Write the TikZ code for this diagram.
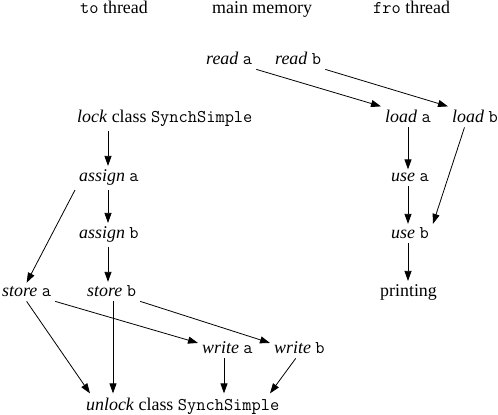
\documentclass[tikz,border=0pt]{standalone}
\usepackage{fontspec}
\setmainfont{Liberation Serif}
\usetikzlibrary{arrows.meta}

\begin{document}
\begin{tikzpicture}[x = 1pt, y = 1pt, font = \fontsize{17.9}{20}\selectfont,
    lbl/.style = {anchor = base west, inner sep = 4pt},
    arr/.style = {-{Triangle[length = 10pt, width = 7pt]}, line width = 0.8pt}]
                \useasboundingbox (0, 0) rectangle (498, 415);

                \node [lbl] (hTo) at (76, 401) {\texttt{to} thread};
                \node [lbl] (hMain) at (208, 401) {main memory};
                \node [lbl] (hFro) at (369, 401) {\texttt{fro} thread};

                \node [lbl] (readA) at (202, 350) {\textit{read} \texttt{a}};
                \node [lbl] (readB) at (271, 350) {\textit{read} \texttt{b}};

                \node [lbl] (lock) at (73, 292) {\textit{lock} class \texttt{SynchSimple}};
                \node [lbl] (loadA) at (381, 292) {\textit{load} \texttt{a}};
                \node [lbl] (loadB) at (448, 292) {\textit{load} \texttt{b}};

                \node [lbl] (assignA) at (75, 233) {\textit{assign} \texttt{a}};
                \node [lbl] (useA) at (387, 233) {\textit{use} \texttt{a}};

                \node [lbl] (assignB) at (75, 176) {\textit{assign} \texttt{b}};
                \node [lbl] (useB) at (387, 176) {\textit{use} \texttt{b}};

                \node [lbl] (storeA) at (-2, 118) {\textit{store} \texttt{a}};
                \node [lbl] (storeB) at (83, 118) {\textit{store} \texttt{b}};
                \node [lbl] (printing) at (376, 118) {printing};

                \node [lbl] (writeA) at (198, 61) {\textit{write} \texttt{a}};
                \node [lbl] (writeB) at (270, 61) {\textit{write} \texttt{b}};

                \node [lbl] (unlock) at (82, 5) {\textit{unlock} class \texttt{SynchSimple}};

                \coordinate (colL) at (108, 0);
                \coordinate (colR) at (408, 0);
                \coordinate (colS) at (113, 0);
                \coordinate (colW) at (224, 0);
                \coordinate (colU) at (90, 0);
                \coordinate (colV) at (270, 0);

                \foreach \a/\b in {lock/assignA, assignA/assignB, assignB/storeB}
                \draw [arr] (\a.south -| colL) -- (\b.north -| colL);

                \foreach \a/\b in {loadA/useA, useA/useB, useB/printing}
                \draw [arr] (\a.south -| colR) -- (\b.north -| colR);

                \draw [arr] (readA.south east) -- (loadA.north west);
                \draw [arr] (readB.south east) -- (loadB.north west);
                \draw [arr] (loadB.-135) -- (useB.north east);
                \draw [arr] (assignA.south west) -- (storeA.north);

                \draw [arr] (storeA.south) -- (unlock.north -| colU);
                \draw [arr] (storeB.south -| colS) -- (unlock.north -| colS);
                \draw [arr] (storeA.south east) -- (writeA.170);
                \draw [arr] (storeB.south east) -- (writeB.170);
                \draw [arr] (writeA.south -| colW) -- (unlock.north -| colW);
                \draw [arr] (writeB.-110) -- (unlock.north -| colV);
            \end{tikzpicture}
\end{document}
